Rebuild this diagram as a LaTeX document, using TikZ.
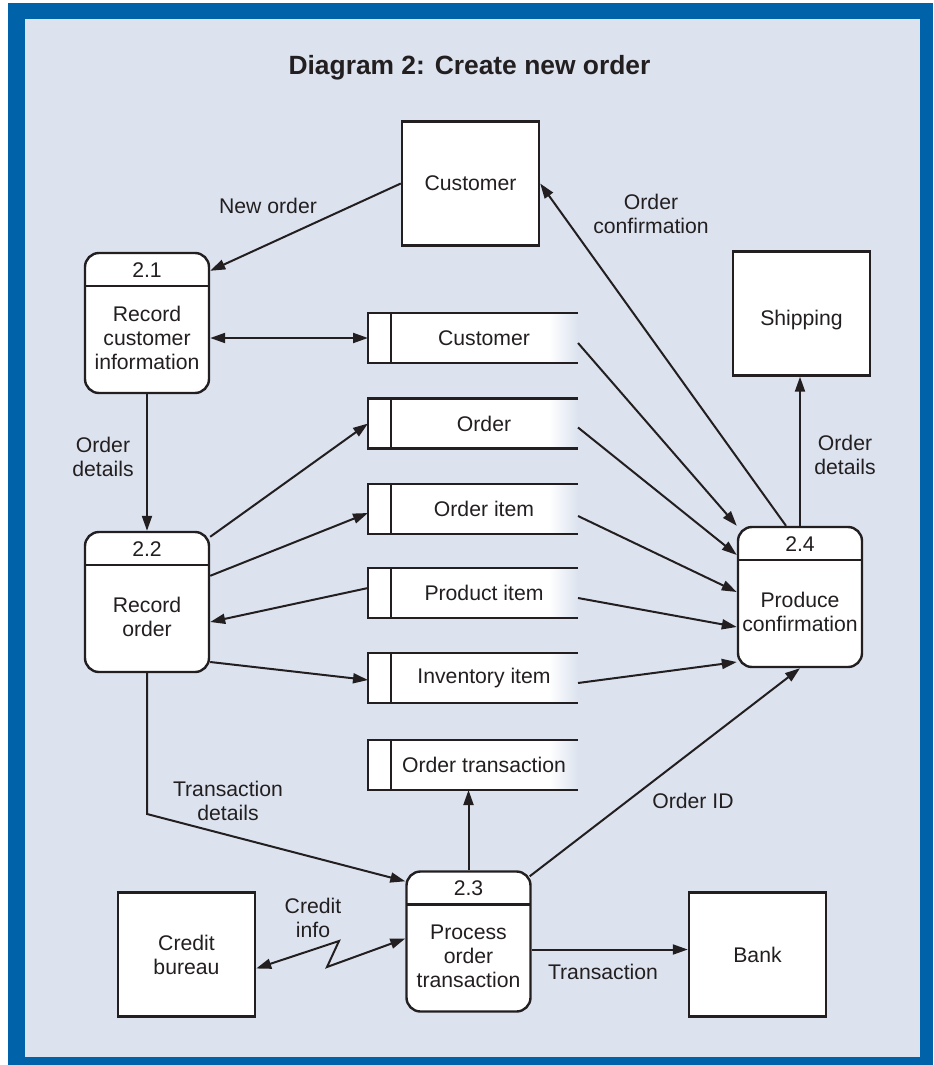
\documentclass[tikz,border=0pt]{standalone}
\usepackage{fontspec}
\setmainfont{Liberation Sans}
\usetikzlibrary{arrows.meta}

\definecolor{frameblue}{HTML}{0062A8}
\definecolor{panel}{HTML}{DCE3EF}
\definecolor{ink}{HTML}{231F20}

% white store body that runs out into the panel colour on the right
\pgfdeclarehorizontalshading{storefade}{100bp}{color(0bp)=(white); color(68bp)=(white); color(75bp)=(panel); color(100bp)=(panel)}

\tikzset{
  every node/.style={font=\fontsize{10.6}{12}\selectfont, text=ink},
  entity/.style={draw=ink, fill=white, line width=1.2pt, minimum width=68.5pt, minimum height=62pt},
  process/.style={draw=ink, fill=white, line width=1.2pt, rounded corners=7pt,
    minimum width=62pt, minimum height=70pt,
    path picture={\draw[draw=ink, line width=1.2pt]
      ([yshift=-16.5pt]path picture bounding box.north west) --
      ([yshift=-16.5pt]path picture bounding box.north east);},
    label={[anchor=north, yshift=-1.5pt]north:#1}},
  proctext/.style={align=center, yshift=-7.5pt},
  store/.style={shade, shading=storefade, minimum width=105pt, minimum height=25pt,
    outer sep=0pt, label={[xshift=5.5pt]center:#1}},
  store line/.style={draw=ink, line width=1.2pt},
  flowlabel/.style={align=center}
}

\begin{document}
\begin{tikzpicture}[x=0.5pt, y=-0.5pt, line width=1pt, draw=ink,
  >={Triangle[length=7.5pt, width=5pt]}]
\useasboundingbox (0,0) rectangle (933,1065);

% frame
\fill[frameblue] (8,3) rectangle (933,1065);
\fill[panel] (25,19) rectangle (920,1057);

\node[font=\bfseries\fontsize{13.2}{15}\selectfont] (title) at (469.5,68) {Diagram 2: Create new order};

% external entities
\node[entity] (cust) at (470.5,183.5) {Customer};
\node[entity, text height=12.2pt, text depth=0pt] (ship) at (801.5,313.5) {Shipping};
\node[entity, align=center] (credit) at (186.5,954.5) {Credit\\bureau};
\node[entity] (bank) at (757.5,954.5) {Bank};

% processes
\node[process=2.1] (p21) at (147,323) {};
\node[proctext] (t21) at (p21) {Record\\customer\\information};
\node[process=2.2] (p22) at (147,602) {};
\node[proctext] (t22) at (p22) {Record\\order};
\node[process=2.3] (p23) at (468.5,941.5) {};
\node[proctext] (t23) at (p23) {Process\\order\\transaction};
\node[process=2.4] (p24) at (800,597) {};
\node[proctext] (t24) at (p24) {Produce\\confirmation};

% data stores
\node[store=Customer] (sc) at (473,338) {};
\node[store=Order] (so) at (473,423.5) {};
\node[store=Order item] (soi) at (473,509) {};
\node[store=Product item] (spi) at (473,593) {};
\node[store=Inventory item] (sii) at (473,678) {};
\node[store=Order transaction] (sot) at (473,765) {};
\foreach \s in {sc,so,soi,spi,sii,sot}
  \draw[store line] (\s.north east) -- (\s.north west) -- (\s.south west) -- (\s.south east)
    ([xshift=11.5pt]\s.north west) -- ([xshift=11.5pt]\s.south west);

% data flows
\draw[->] (cust.west) -- ([yshift=-9.5pt]p21.north east);
\draw[<->] (sc.west -| p21.east) -- (sc.west);
\draw[->] (p21) -- (p22);
\draw[->] ([yshift=-3pt]p22.north east) -- (so.west);
\draw[->] ([yshift=-22.5pt]p22.north east) -- ([yshift=-2pt]soi.west);
\draw[->] ([yshift=2.5pt]spi.west) -- ([yshift=-10pt]p22.east);
\draw[->] ([yshift=-30pt]p22.east) -- ([yshift=-1pt]sii.west);
\coordinate (bend) at (147,814);
\draw[->] (p22) -- (bend) -- ([yshift=-5.5pt]p23.north west);
\draw[->] (p23.north) -- (p23.north |- sot.south);
\draw[->] ([xshift=-1pt, yshift=-3pt]p23.north east) -- (p24.south);
\draw[->] ([yshift=-4pt]p23.east) -- ([yshift=2.5pt]bank.west);
\coordinate (zz1) at (339,941);
\coordinate (zz2) at (327,967);
\draw[<->] ([yshift=-7pt]credit.east) -- (zz1) -- (zz2) -- ([yshift=1.5pt]p23.west);
\draw[->] (p24.north) -- (p24.north |- ship.south);
\draw[->] ([xshift=-7pt]p24.north) -- (cust.east);
\draw[->] ([yshift=-2.5pt]sc.east) -- (p24.north west);
\draw[->] ([yshift=-2pt]so.east) -- ([yshift=21pt]p24.west);
\draw[->] ([yshift=-3.5pt]soi.east) -- ([yshift=2.5pt]p24.west);
\draw[->] ([yshift=-2.5pt]spi.east) -- ([yshift=-15pt]p24.west);
\draw[->] ([yshift=-2.5pt]sii.east) -- ([yshift=-32.5pt]p24.west);

% flow labels
\node[flowlabel] (lneworder) at (268,206) {New order};
\node[flowlabel] (lconfirm) at (651,214) {Order\\confirmation};
\node[flowlabel] (ldetails) at (103,457) {Order\\details};
\node[flowlabel] (lshipdetails) at (845,455) {Order\\details};
\node[flowlabel] (ltransdetails) at (228,801) {Transaction\\details};
\node[flowlabel] (lorderid) at (693,801) {Order ID};
\node[flowlabel] (lcredit) at (313,918) {Credit\\info};
\node[flowlabel] (lpayment) at (603,972) {Transaction};
\end{tikzpicture}
\end{document}
